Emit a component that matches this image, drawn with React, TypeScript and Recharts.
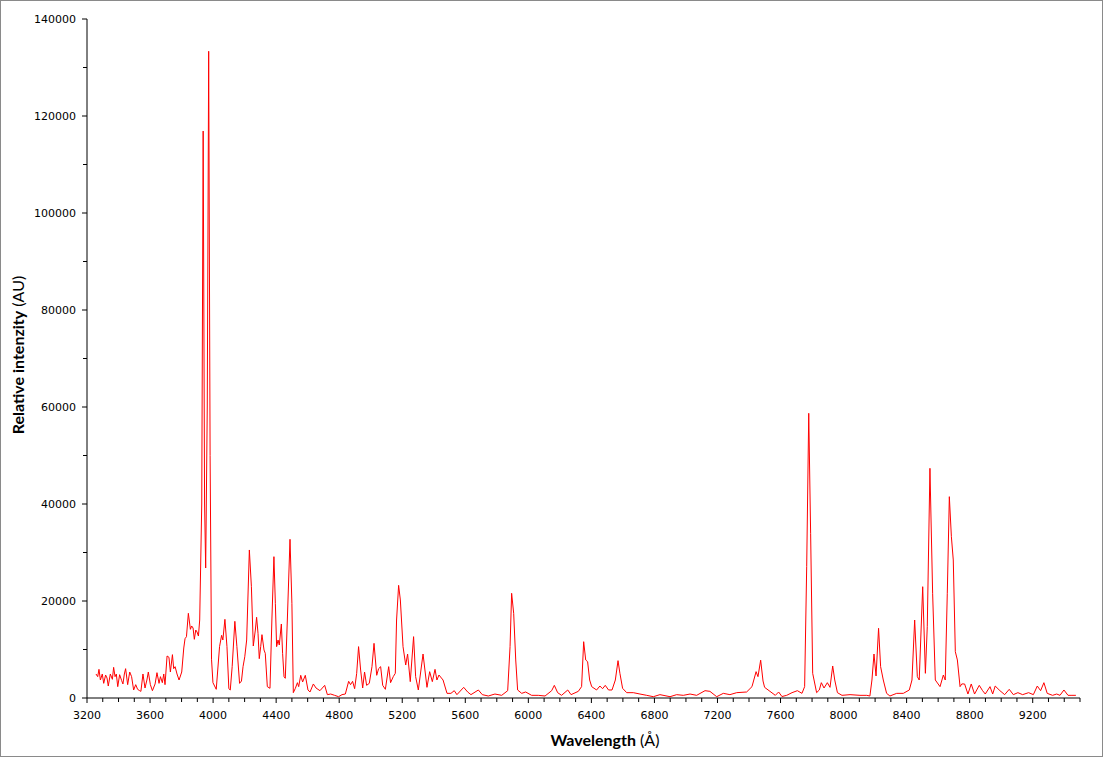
import { LineChart, Line, XAxis, YAxis } from "recharts";

// ── Spectrum data ────────────────────────────────────────────────────

const wavelengths = [
  3257, 3268, 3276, 3285, 3297, 3306, 3318, 3327, 3335, 3348, 3361, 3369, 3378, 3386, 3395,
  3407, 3420, 3428, 3437, 3445, 3458, 3471, 3483, 3496, 3509, 3521, 3534, 3542, 3555, 3568,
  3580, 3589, 3602, 3615, 3632, 3644, 3657, 3666, 3678, 3687, 3695, 3708, 3720, 3729, 3742,
  3750, 3759, 3771, 3784, 3801, 3814, 3822, 3831, 3843, 3856, 3864, 3873, 3881, 3890, 3898,
  3907, 3915, 3928, 3937, 3946, 3953, 3963, 3972, 3981, 3990, 3999, 4020, 4041, 4054, 4062,
  4075, 4088, 4100, 4109, 4121, 4138, 4151, 4168, 4180, 4190, 4201, 4213, 4230, 4243, 4255,
  4268, 4276, 4285, 4293, 4302, 4310, 4323, 4331, 4344, 4361, 4373, 4386, 4395, 4403, 4412,
  4420, 4433, 4441, 4450, 4458, 4471, 4488, 4500, 4509, 4522, 4535, 4543, 4556, 4568, 4585,
  4602, 4615, 4636, 4653, 4678, 4708, 4725, 4746, 4771, 4796, 4818, 4839, 4860, 4872, 4885,
  4898, 4911, 4923, 4936, 4949, 4961, 4974, 4991, 5008, 5021, 5038, 5050, 5063, 5076, 5093,
  5114, 5126, 5143, 5156, 5164, 5177, 5188, 5205, 5222, 5234, 5251, 5272, 5285, 5302, 5332,
  5357, 5374, 5391, 5408, 5420, 5433, 5459, 5484, 5509, 5530, 5547, 5590, 5615, 5636, 5683,
  5708, 5746, 5788, 5831, 5869, 5884, 5894, 5907, 5920, 5932, 5958, 5983, 6021, 6063, 6106,
  6148, 6165, 6186, 6211, 6250, 6271, 6317, 6338, 6351, 6364, 6376, 6389, 6402, 6433, 6454,
  6471, 6488, 6509, 6531, 6552, 6569, 6581, 6598, 6624, 6666, 6708, 6751, 6793, 6835, 6899,
  6941, 6983, 7026, 7068, 7121, 7152, 7195, 7237, 7279, 7322, 7385, 7419, 7445, 7457, 7474,
  7489, 7499, 7533, 7567, 7588, 7609, 7639, 7673, 7707, 7736, 7753, 7766, 7779, 7791, 7804,
  7829, 7846, 7859, 7876, 7897, 7914, 7931, 7944, 7961, 7990, 8041, 8104, 8147, 8167, 8180,
  8193, 8206, 8222, 8235, 8252, 8273, 8294, 8337, 8379, 8417, 8434, 8451, 8468, 8480, 8502,
  8519, 8531, 8548, 8565, 8582, 8612, 8633, 8645, 8658, 8671, 8684, 8696, 8709, 8722, 8739,
  8750, 8768, 8789, 8810, 8831, 8861, 8882, 8899, 8929, 8946, 8962, 8992, 9022, 9051, 9077,
  9106, 9136, 9174, 9204, 9229, 9250, 9271, 9292, 9326, 9352, 9373, 9398, 9424, 9449, 9474,
];

const intensities = [
  4950, 4400, 5910, 3710, 4950, 3025, 4740, 4120, 2470, 4950, 3850, 6320, 4400, 4950, 2340,
  4810, 3570, 2890, 4950, 6050, 2750, 5360, 4400, 1650, 2750, 1790, 1510, 1370, 4950, 2060,
  3710, 5360, 2750, 1510, 2890, 5220, 3020, 4400, 3160, 4950, 2750, 8660, 8390, 5360, 8940,
  6050, 6460, 4950, 3710, 5360, 10310, 12230, 12640, 17460, 14160, 14850, 14430, 12100, 14020, 13610,
  12780, 16080, 40000, 116900, 40000, 26800, 60000, 133350, 50000, 8000, 3160, 1790, 10590, 12920, 11960,
  16220, 10590, 1920, 1650, 6460, 15810, 10590, 3020, 3500, 6460, 8500, 11960, 30520, 22950, 10720,
  14020, 16640, 13340, 8110, 10590, 13060, 9900, 9210, 2340, 2000, 16080, 29140, 19520, 10590, 11960,
  10930, 15260, 9210, 4400, 4060, 16080, 32720, 19520, 1100, 2000, 3160, 2340, 4680, 3300, 4680,
  1650, 1240, 2890, 2060, 1510, 2610, 690, 820, 550, 270, 690, 820, 3440, 2750, 3440,
  1920, 5090, 10590, 5770, 2060, 5360, 2610, 3020, 6460, 11270, 4680, 6050, 6460, 2610, 1790,
  6460, 3160, 4400, 5090, 16080, 23230, 20210, 10590, 6800, 9070, 3370, 12650, 4400, 1650, 9070,
  2200, 5430, 3370, 5910, 3710, 4740, 3710, 960, 960, 1510, 690, 2200, 1240, 690, 1650,
  690, 410, 820, 550, 1510, 10590, 21590, 17460, 7840, 1650, 960, 1240, 550, 550, 410,
  1510, 2610, 1100, 550, 1650, 690, 1370, 2340, 11610, 7840, 7490, 3710, 2340, 1650, 2470,
  1920, 2610, 1650, 1650, 3710, 7700, 5090, 2000, 1100, 1100, 820, 550, 270, 690, 270,
  690, 550, 820, 550, 1510, 1370, 270, 960, 690, 1100, 1240, 2340, 5430, 4400, 7800,
  3500, 2200, 1370, 550, 1240, 300, 550, 1100, 1510, 960, 2340, 27080, 58700, 33960, 5090,
  1100, 1650, 3160, 2060, 3160, 2200, 6600, 3710, 1100, 550, 690, 550, 550, 410, 3710,
  9070, 4540, 14370, 6460, 3710, 960, 410, 960, 960, 1650, 3710, 16080, 4400, 3710, 22950,
  5090, 14700, 47360, 21590, 3710, 2340, 4740, 3710, 21590, 41510, 33260, 28460, 9550, 7840, 2340,
  2900, 2890, 820, 2890, 820, 2610, 1510, 820, 2340, 820, 2470, 1510, 690, 1790, 690,
  1100, 690, 1100, 690, 2470, 1510, 3160, 960, 550, 820, 550, 1650, 550, 550, 550,
];

const xTicks = [
  3200, 3300, 3400, 3500, 3600, 3700, 3800, 3900, 4000, 4100, 4200, 4300, 4400, 4500, 4600,
  4700, 4800, 4900, 5000, 5100, 5200, 5300, 5400, 5500, 5600, 5700, 5800, 5900, 6000, 6100,
  6200, 6300, 6400, 6500, 6600, 6700, 6800, 6900, 7000, 7100, 7200, 7300, 7400, 7500, 7600,
  7700, 7800, 7900, 8000, 8100, 8200, 8300, 8400, 8500, 8600, 8700, 8800, 8900, 9000, 9100,
  9200, 9300, 9400, 9500,
];

const yTicks = [
  0, 10000, 20000, 30000, 40000, 50000, 60000, 70000, 80000, 90000, 100000, 110000, 120000,
  130000, 140000,
];

const data = wavelengths.map((w, i) => ({ w, v: intensities[i] }));

const TICK_FONT = "'DejaVu Sans', Verdana, sans-serif";
const TITLE_FONT = "Lato, 'Open Sans', sans-serif";

// ── Ticks: major every 400 Å / 20000, minor in between ───────────────

function XTick(props: any) {
  const { x, y, payload } = props;
  const major = payload.value % 400 === 0;
  return (
    <g>
      <line x1={x} y1={y} x2={x} y2={y + (major ? 5 : 4)} stroke="#000" />
      {major && (
        <text x={x} y={y + 21} textAnchor="middle" fontSize={11} fontFamily={TICK_FONT} fill="#000">
          {payload.value}
        </text>
      )}
    </g>
  );
}

function YTick(props: any) {
  const { x, y, payload } = props;
  const major = payload.value % 20000 === 0;
  return (
    <g>
      <line x1={x - (major ? 5 : 4)} y1={y} x2={x} y2={y} stroke="#000" />
      {major && (
        <text x={x - 11} y={y + 4} textAnchor="end" fontSize={11} fontFamily={TICK_FONT} fill="#000">
          {payload.value}
        </text>
      )}
    </g>
  );
}

function XTitle() {
  return (
    <text x={605} y={746} textAnchor="middle" fontSize={16} fontFamily={TITLE_FONT} fill="#000">
      <tspan fontWeight={700}>Wavelength</tspan>
      <tspan> (Å)</tspan>
    </text>
  );
}

function YTitle() {
  return (
    <text
      x={0}
      y={0}
      transform="translate(24,355) rotate(-90)"
      textAnchor="middle"
      fontSize={16}
      fontFamily={TITLE_FONT}
      fill="#000"
    >
      <tspan fontWeight={700}>Relative intenzity</tspan>
      <tspan> (AU)</tspan>
    </text>
  );
}

export default function App() {
  return (
    <div style={{ position: "absolute", left: 0, top: 0, width: 1103, height: 757, background: "#fff" }}>
      <LineChart
        width={1103}
        height={757}
        data={data}
        margin={{ top: 19, right: 23, bottom: 0, left: 0 }}
      >
        <XAxis
          dataKey="w"
          type="number"
          domain={[3200, 9500]}
          ticks={xTicks}
          interval={0}
          tickSize={0}
          tickMargin={0}
          tickLine={false}
          tick={<XTick />}
          axisLine={{ stroke: "#000" }}
          height={59}
          allowDataOverflow
          label={{ content: () => <XTitle /> }}
        />
        <YAxis
          type="number"
          domain={[0, 140000]}
          ticks={yTicks}
          interval={0}
          tickSize={0}
          tickMargin={0}
          tickLine={false}
          tick={<YTick />}
          axisLine={{ stroke: "#000" }}
          width={87}
          allowDataOverflow
          label={{ content: () => <YTitle /> }}
        />
        <Line
          dataKey="v"
          type="linear"
          stroke="#ff0000"
          strokeWidth={1}
          dot={false}
          activeDot={false}
          isAnimationActive={false}
        />
      </LineChart>
      <div
        style={{
          position: "absolute",
          inset: 0,
          border: "1px solid #8a8a8a",
          boxSizing: "border-box",
          pointerEvents: "none",
        }}
      />
    </div>
  );
}
